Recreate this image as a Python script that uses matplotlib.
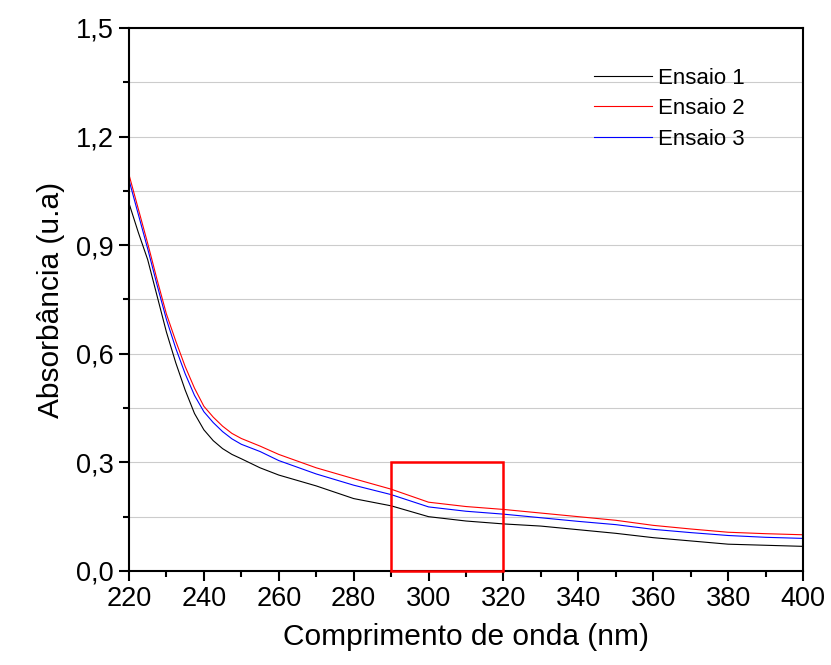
import matplotlib
matplotlib.use("Agg")
import matplotlib.pyplot as plt
from matplotlib.patches import Rectangle
from matplotlib.ticker import MultipleLocator, FuncFormatter

plt.rcParams['font.family'] = ['Liberation Sans', 'DejaVu Sans']

# comprimento de onda (nm)
wavelength = [220, 222.5, 225, 227.5, 230, 232.5, 235, 237.5, 240, 242.5, 245, 247.5, 250, 255, 260,
              270, 280, 290, 300, 310, 320, 330, 340, 350, 360, 370, 380, 390, 400]

ensaio1 = [1.016, 0.935, 0.86, 0.76, 0.66, 0.575, 0.50, 0.435, 0.39, 0.36, 0.338, 0.322, 0.31, 0.285, 0.265,
           0.235, 0.20, 0.18, 0.15, 0.138, 0.13, 0.124, 0.114, 0.104, 0.092, 0.083, 0.074, 0.071, 0.068]
ensaio2 = [1.095, 1.00, 0.905, 0.805, 0.71, 0.635, 0.565, 0.505, 0.455, 0.425, 0.40, 0.38, 0.366, 0.345, 0.322,
           0.285, 0.255, 0.226, 0.19, 0.178, 0.17, 0.16, 0.15, 0.14, 0.126, 0.116, 0.107, 0.103, 0.100]
ensaio3 = [1.08, 0.985, 0.89, 0.79, 0.695, 0.615, 0.545, 0.485, 0.44, 0.41, 0.385, 0.365, 0.35, 0.33, 0.305,
           0.268, 0.237, 0.211, 0.177, 0.165, 0.157, 0.147, 0.137, 0.128, 0.115, 0.106, 0.098, 0.093, 0.09]

labels = ["Ensaio 1", "Ensaio 2", "Ensaio 3"]
colors = ["black", "red", "blue"]

# region highlighted in the plot
box_x = (290, 320)
box_y = (0.0, 0.3)

fig = plt.figure(figsize=(8.31, 6.65), dpi=100)
ax = fig.add_axes([0.1552, 0.1414, 0.8111, 0.8165])

for y, lab, c in zip([ensaio1, ensaio2, ensaio3], labels, colors):
    ax.plot(wavelength, y, color=c, lw=0.8, label=lab)

ax.add_patch(Rectangle((box_x[0], box_y[0]), box_x[1] - box_x[0], box_y[1] - box_y[0],
                       fill=False, edgecolor="red", lw=1.8, zorder=5, clip_on=False))

ax.set_xlim(220, 400)
ax.set_ylim(0, 1.5)
ax.xaxis.set_major_locator(MultipleLocator(20))
ax.xaxis.set_minor_locator(MultipleLocator(10))
ax.yaxis.set_major_locator(MultipleLocator(0.3))
ax.yaxis.set_minor_locator(MultipleLocator(0.15))
ax.yaxis.set_major_formatter(FuncFormatter(lambda v, p: f"{v:.1f}".replace(".", ",")))

ax.grid(True, axis="y", which="both", color="#cccccc", lw=0.8)
ax.set_axisbelow(True)

for s in ax.spines.values():
    s.set_linewidth(1.5)
ax.tick_params(which="both", direction="out", top=False, right=False, width=1.5)
ax.tick_params(which="major", length=7, labelsize=19.5, pad=4)
ax.tick_params(which="minor", length=4)

ax.set_xlabel("Comprimento de onda (nm)", fontsize=21.5, labelpad=8)
ax.set_ylabel("Absorbância (u.a)", fontsize=21.5, labelpad=8)

ax.legend(loc="upper right", bbox_to_anchor=(0.944, 0.964), frameon=False, fontsize=16,
          handlelength=2.6, handletextpad=0.3, labelspacing=0.43)

fig.savefig("out.png", dpi=100)
